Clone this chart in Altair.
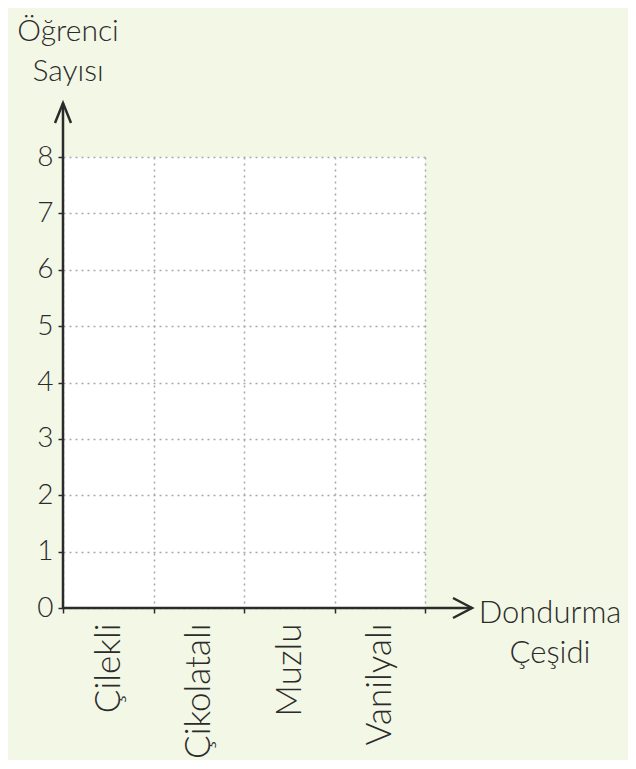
import altair as alt
import pandas as pd

categories = ["Çilekli", "Çikolatalı", "Muzlu", "Vanilyalı"]
counts = [0, 0, 0, 0]          # empty chart: no bars drawn yet
y_ticks = [0, 1, 2, 3, 4, 5, 6, 7, 8]
y_title_lines = ["Öğrenci", "Sayısı"]
x_title_lines = ["Dondurma", "Çeşidi"]

FONT = "Lato"
INK = "#2b2b2b"
W, H = 362, 451

df = pd.DataFrame({"cesit": categories, "sayi": counts})
one = pd.DataFrame({"k": [0]})

base = alt.Chart(df).mark_bar(opacity=0).encode(
    x=alt.X("cesit:N", sort=categories,
            scale=alt.Scale(paddingInner=0, paddingOuter=0),
            axis=alt.Axis(title=None, tickBand="extent", grid=True,
                          gridColor="#a8a8a8", gridDash=[2, 4], gridWidth=1.5,
                          domain=False, ticks=True, tickSize=5, tickColor=INK,
                          tickWidth=1.5, labelAngle=-90, labelFontSize=35,
                          labelFont=FONT, labelColor=INK, labelPadding=10,
                          labelFontWeight=300)),
    y=alt.Y("sayi:Q", scale=alt.Scale(domain=[0, 8], nice=False),
            axis=alt.Axis(title=None, values=y_ticks, grid=True,
                          gridColor="#a8a8a8", gridDash=[2, 4], gridWidth=1.5,
                          domain=False, tickSize=5, tickColor=INK, tickWidth=1.5,
                          labelFontSize=28, labelFont=FONT, labelColor=INK,
                          labelPadding=5, labelFontWeight=300)),
)

yaxis_line = alt.Chart(one).mark_rule(color=INK, strokeWidth=2.5).encode(
    x=alt.value(0), y=alt.value(-54), y2=alt.value(H))
xaxis_line = alt.Chart(one).mark_rule(color=INK, strokeWidth=2.5).encode(
    x=alt.value(0), x2=alt.value(409), y=alt.value(H))

up_arrow = alt.Chart(one).mark_point(
    shape="M-0.8,1L0,-1L0.8,1", filled=False, size=400, color=INK,
    strokeWidth=2.5, opacity=1).encode(x=alt.value(0), y=alt.value(-44))
right_arrow = alt.Chart(one).mark_point(
    shape="M-0.95,-1L0.95,0L-0.95,1", filled=False, size=400, color=INK,
    strokeWidth=2.5, opacity=1).encode(x=alt.value(399.5), y=alt.value(H))

def label(txt, x, y, size=31):
    return alt.Chart(one).mark_text(
        text=txt, font=FONT, fontSize=size, fontWeight=300, color=INK,
        align="center", baseline="alphabetic").encode(
        x=alt.value(x), y=alt.value(y))

titles = [
    label(y_title_lines[0], 5, -116, 30),
    label(y_title_lines[1], 5, -76, 30),
    label(x_title_lines[0], 487, 466),
    label(x_title_lines[1], 487, 506),
]

chart = alt.layer(base, yaxis_line, xaxis_line, up_arrow, right_arrow, *titles).properties(
    width=W, height=H,
    autosize=alt.AutoSizeParams(type="none"),
    padding={"left": 55, "top": 149, "right": 203, "bottom": 152},
    background="#f3f7e6",
).configure_view(fill="white", stroke=None)

chart.save("out.html", embed_options={"renderer": "svg", "actions": False})
